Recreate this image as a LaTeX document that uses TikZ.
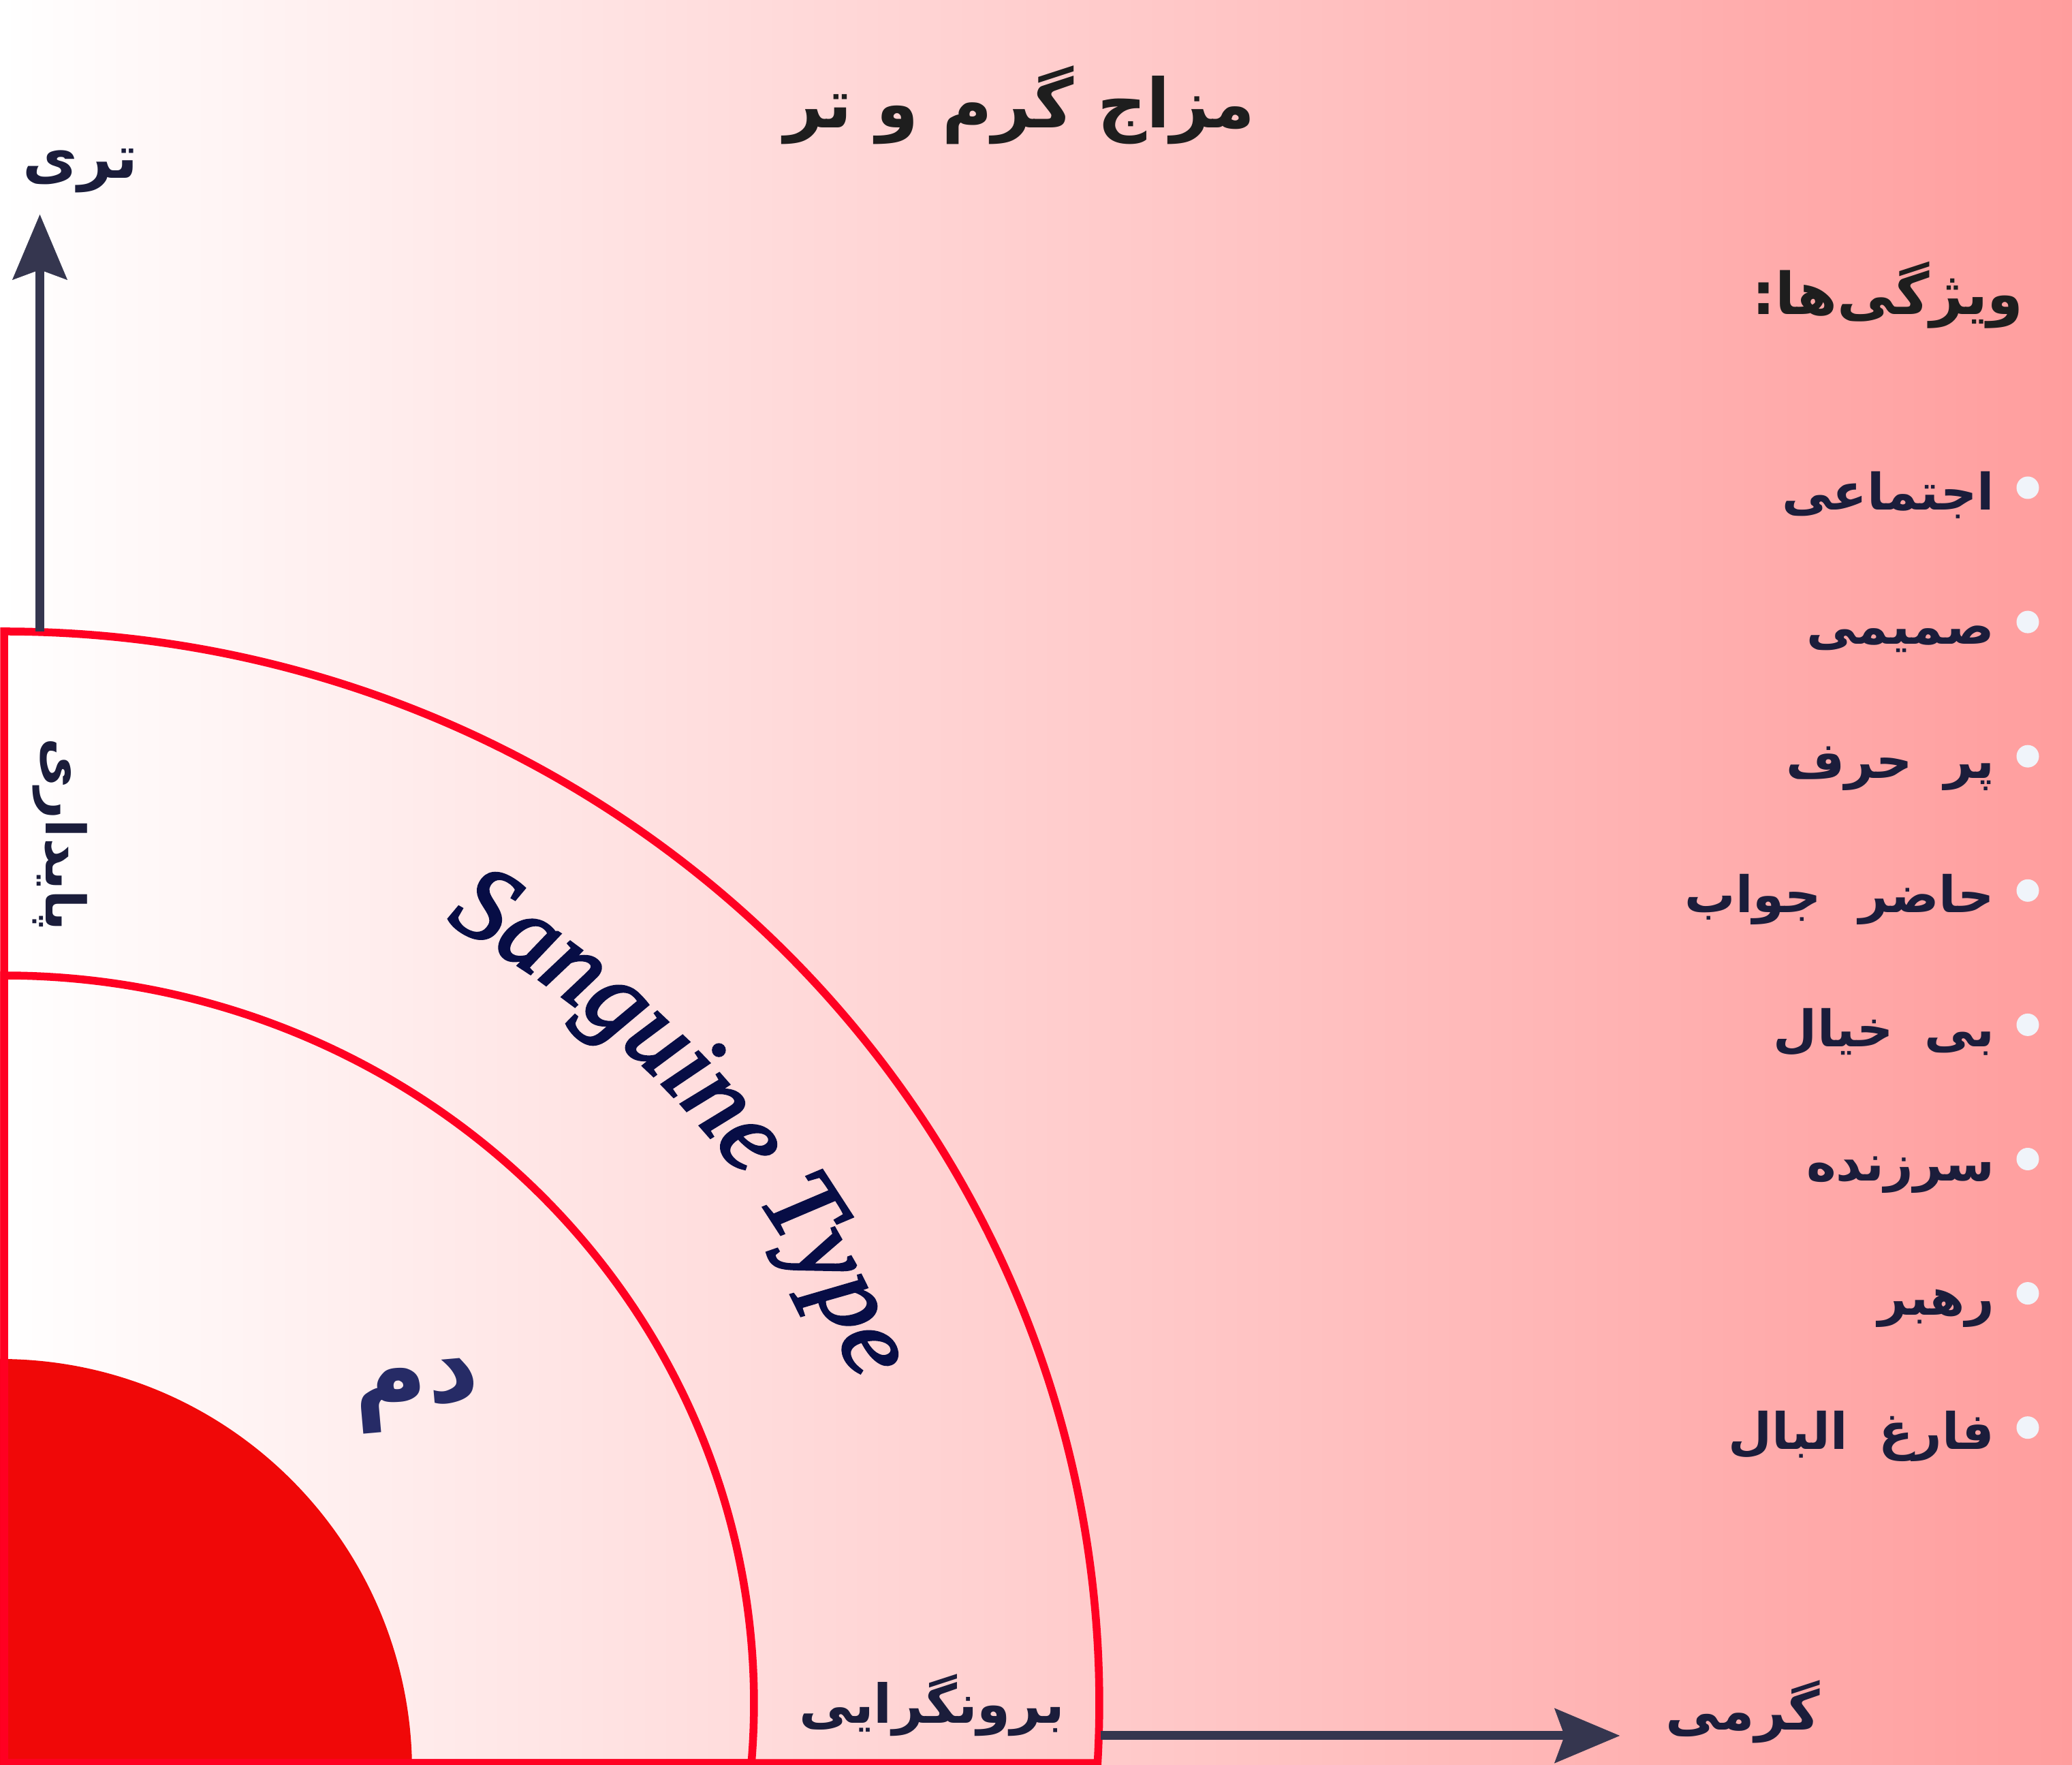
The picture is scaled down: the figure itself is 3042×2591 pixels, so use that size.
\documentclass[tikz,border=0pt]{standalone}
\usepackage{fontspec}
\setmainfont{Liberation Serif}
\newfontfamily\fa[Script=Arabic]{DejaVu Sans}
\newfontfamily\lat[FakeBold=2.5]{Liberation Serif}
\TeXXeTstate=1
\usetikzlibrary{arrows.meta,decorations.text}
\definecolor{bgright}{RGB}{255,157,157}
\definecolor{ringred}{RGB}{255,0,34}
\definecolor{discred}{RGB}{240,8,8}
\definecolor{axiscol}{RGB}{53,54,79}
\definecolor{navy}{RGB}{27,29,59}
\definecolor{titleblk}{RGB}{30,30,30}
\definecolor{damblue}{RGB}{38,43,102}
\definecolor{sang}{RGB}{7,13,69}
\definecolor{dotcol}{RGB}{240,244,250}
\tikzset{
  fatxt/.style={inner sep=0pt, text=navy},
  ringline/.style={draw=ringred, line width=11.5pt, line join=miter},
  axisarrow/.style={draw=axiscol, line width=13pt, -{Stealth[length=96pt, width=81pt, inset=15pt, line width=0.5pt]}},
  bulletdot/.style={circle, fill=dotcol, inner sep=0pt, minimum size=33pt},
  itemtxt/.style={fatxt, anchor=base east, font=\fa\bfseries\fontsize{74}{84}\selectfont},
}
\begin{document}
\begin{tikzpicture}[x=1pt,y=1pt]
\useasboundingbox (0,0) rectangle (3042,2591);
\clip (0,0) rectangle (3042,2591);
\shade[left color=white, right color=bgright] (0,0) rectangle (3042,2591);
% red disc
\fill[discred] (0,-9) circle[radius=605];
% ring outlines
\draw[ringline] (6,3) -- (6,1664) arc[start angle=90, end angle=-3.21, x radius=1608, y radius=1573] -- cycle;
\draw[ringline] (6,3) -- (6,1159) arc[start angle=90, end angle=-4.73, x radius=1101, y radius=1068] -- cycle;
% axes
\coordinate (vbase) at (58.5,1664);
\coordinate (vtip) at (58.5,2276);
\coordinate (hbase) at (1616,43);
\coordinate (htip) at (2378,43);
\draw[axisarrow] (vbase) -- (vtip);
\draw[axisarrow] (hbase) -- (htip);
% title
\node[fatxt, text=titleblk, anchor=base, font=\fa\bfseries\fontsize{100}{120}\selectfont] (title) at (1497,2403) {\beginR مزاج گرم و تر\endR};
\node[fatxt, anchor=base, font=\fa\bfseries\fontsize{88}{100}\selectfont] (tari) at (118,2329) {\beginR تری\endR};
\node[fatxt, anchor=base, font=\fa\bfseries\fontsize{80}{100}\selectfont] (garmi) at (2559,51) {\beginR گرمی\endR};
\node[fatxt, anchor=base, font=\fa\bfseries\fontsize{79}{100}\selectfont] (boron) at (1368,61) {\beginR برونگرایی\endR};
\node[fatxt, anchor=base, rotate=-90, font=\fa\bfseries\fontsize{80}{100}\selectfont] (paydari) at (67,1366) {\beginR پایداری\endR};
\node[fatxt, text=damblue, anchor=center, rotate=5, font=\fa\bfseries\fontsize{150}{160}\selectfont] (dam) at (612,542) {\beginR دم\endR};
\node[fatxt, text=titleblk, anchor=base east, font=\fa\bfseries\fontsize{85}{100}\selectfont] (vizh) at (2971,2129) {\beginR ویژگی‌ها:\endR};
% Sanguine Type along arc
\path[decorate, decoration={text along path, text align=center, text color=sang,
  text={|\lat\itshape\fontsize{156}{156}\selectfont|Sanguine Type}}]
  (420.1,1336.9) arc[start angle=72, end angle=10, x radius=1340, y radius=1310];
% list
\node[bulletdot] (d1) at (2977,1875) {};
\node[bulletdot] (d2) at (2977,1677.9) {};
\node[bulletdot] (d3) at (2977,1480.8) {};
\node[bulletdot] (d4) at (2977,1283.7) {};
\node[bulletdot] (d5) at (2977,1086.6) {};
\node[bulletdot] (d6) at (2977,889.5) {};
\node[bulletdot] (d7) at (2977,692.4) {};
\node[bulletdot] (d8) at (2977,495.3) {};
\node[itemtxt] (i1) at (2928,1842) {\beginR اجتماعی\endR};
\node[itemtxt] (i2) at (2928,1645) {\beginR صمیمی\endR};
\node[itemtxt] (i3) at (2928,1448) {\beginR پر\hspace{20pt} حرف\endR};
\node[itemtxt] (i4) at (2928,1251) {\beginR حاضر\hspace{30pt} جواب\endR};
\node[itemtxt] (i5) at (2928,1054) {\beginR بی\hspace{20pt} خیال\endR};
\node[itemtxt] (i6) at (2928,857) {\beginR سرزنده\endR};
\node[itemtxt] (i7) at (2928,660) {\beginR رهبر\endR};
\node[itemtxt] (i8) at (2928,463) {\beginR فارغ\hspace{20pt} البال\endR};
\end{tikzpicture}
\end{document}
